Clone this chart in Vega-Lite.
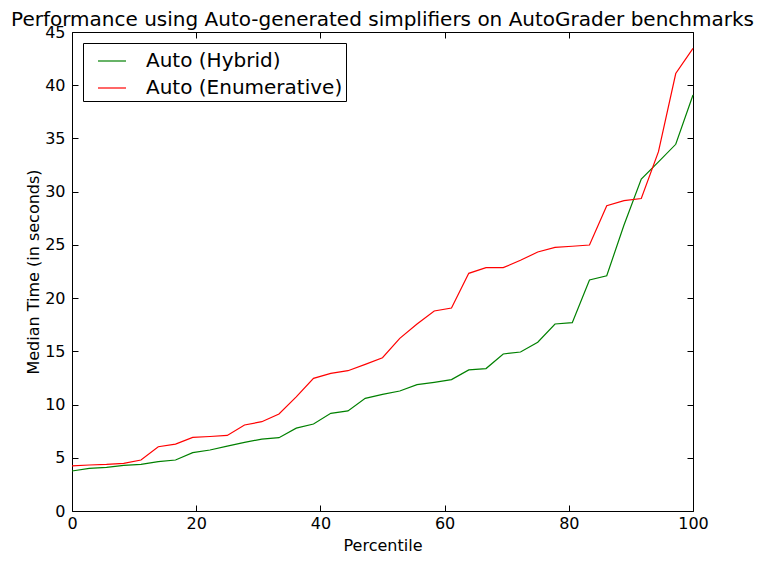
{
  "$schema": "https://vega.github.io/schema/vega-lite/v6.json",
  "autosize": "none",
  "width": 621,
  "height": 479,
  "padding": {"left": 72, "top": 32, "right": 72, "bottom": 53},
  "background": "white",
  "title": {"text": "Performance using Auto-generated simplifiers on AutoGrader benchmarks", "font": "DejaVu Sans", "fontSize": 20, "fontWeight": "normal", "color": "black", "anchor": "middle", "offset": -6},
  "config": {
    "view": {"stroke": "black", "strokeWidth": 1},
    "font": "DejaVu Sans"
  },
  "datasets": {
    "d": [
      {"p": 0, "t": 3.76, "s": "Auto (Hybrid)"},
      {"p": 2.78, "t": 4.0, "s": "Auto (Hybrid)"},
      {"p": 5.56, "t": 4.1, "s": "Auto (Hybrid)"},
      {"p": 8.33, "t": 4.29, "s": "Auto (Hybrid)"},
      {"p": 11.11, "t": 4.38, "s": "Auto (Hybrid)"},
      {"p": 13.89, "t": 4.64, "s": "Auto (Hybrid)"},
      {"p": 16.67, "t": 4.79, "s": "Auto (Hybrid)"},
      {"p": 19.44, "t": 5.48, "s": "Auto (Hybrid)"},
      {"p": 22.22, "t": 5.73, "s": "Auto (Hybrid)"},
      {"p": 25.0, "t": 6.1, "s": "Auto (Hybrid)"},
      {"p": 27.78, "t": 6.45, "s": "Auto (Hybrid)"},
      {"p": 30.56, "t": 6.76, "s": "Auto (Hybrid)"},
      {"p": 33.33, "t": 6.89, "s": "Auto (Hybrid)"},
      {"p": 36.11, "t": 7.78, "s": "Auto (Hybrid)"},
      {"p": 38.89, "t": 8.17, "s": "Auto (Hybrid)"},
      {"p": 41.67, "t": 9.18, "s": "Auto (Hybrid)"},
      {"p": 44.44, "t": 9.4, "s": "Auto (Hybrid)"},
      {"p": 47.22, "t": 10.58, "s": "Auto (Hybrid)"},
      {"p": 50.0, "t": 10.96, "s": "Auto (Hybrid)"},
      {"p": 52.78, "t": 11.27, "s": "Auto (Hybrid)"},
      {"p": 55.56, "t": 11.87, "s": "Auto (Hybrid)"},
      {"p": 58.33, "t": 12.09, "s": "Auto (Hybrid)"},
      {"p": 61.11, "t": 12.34, "s": "Auto (Hybrid)"},
      {"p": 63.89, "t": 13.25, "s": "Auto (Hybrid)"},
      {"p": 66.67, "t": 13.38, "s": "Auto (Hybrid)"},
      {"p": 69.44, "t": 14.75, "s": "Auto (Hybrid)"},
      {"p": 72.22, "t": 14.94, "s": "Auto (Hybrid)"},
      {"p": 75.0, "t": 15.85, "s": "Auto (Hybrid)"},
      {"p": 77.78, "t": 17.57, "s": "Auto (Hybrid)"},
      {"p": 80.56, "t": 17.69, "s": "Auto (Hybrid)"},
      {"p": 83.33, "t": 21.7, "s": "Auto (Hybrid)"},
      {"p": 86.11, "t": 22.1, "s": "Auto (Hybrid)"},
      {"p": 88.89, "t": 26.87, "s": "Auto (Hybrid)"},
      {"p": 91.67, "t": 31.19, "s": "Auto (Hybrid)"},
      {"p": 94.44, "t": 32.8, "s": "Auto (Hybrid)"},
      {"p": 97.22, "t": 34.45, "s": "Auto (Hybrid)"},
      {"p": 100.0, "t": 39.08, "s": "Auto (Hybrid)"},
      {"p": 0, "t": 4.23, "s": "Auto (Enumerative)"},
      {"p": 2.78, "t": 4.32, "s": "Auto (Enumerative)"},
      {"p": 5.56, "t": 4.38, "s": "Auto (Enumerative)"},
      {"p": 8.33, "t": 4.48, "s": "Auto (Enumerative)"},
      {"p": 11.11, "t": 4.79, "s": "Auto (Enumerative)"},
      {"p": 13.89, "t": 6.04, "s": "Auto (Enumerative)"},
      {"p": 16.67, "t": 6.29, "s": "Auto (Enumerative)"},
      {"p": 19.44, "t": 6.92, "s": "Auto (Enumerative)"},
      {"p": 22.22, "t": 7.0, "s": "Auto (Enumerative)"},
      {"p": 25.0, "t": 7.1, "s": "Auto (Enumerative)"},
      {"p": 27.78, "t": 8.08, "s": "Auto (Enumerative)"},
      {"p": 30.56, "t": 8.39, "s": "Auto (Enumerative)"},
      {"p": 33.33, "t": 9.11, "s": "Auto (Enumerative)"},
      {"p": 36.11, "t": 10.72, "s": "Auto (Enumerative)"},
      {"p": 38.89, "t": 12.46, "s": "Auto (Enumerative)"},
      {"p": 41.67, "t": 12.93, "s": "Auto (Enumerative)"},
      {"p": 44.44, "t": 13.18, "s": "Auto (Enumerative)"},
      {"p": 47.22, "t": 13.78, "s": "Auto (Enumerative)"},
      {"p": 50.0, "t": 14.4, "s": "Auto (Enumerative)"},
      {"p": 52.78, "t": 16.22, "s": "Auto (Enumerative)"},
      {"p": 55.56, "t": 17.57, "s": "Auto (Enumerative)"},
      {"p": 58.33, "t": 18.79, "s": "Auto (Enumerative)"},
      {"p": 61.11, "t": 19.07, "s": "Auto (Enumerative)"},
      {"p": 63.89, "t": 22.33, "s": "Auto (Enumerative)"},
      {"p": 66.67, "t": 22.86, "s": "Auto (Enumerative)"},
      {"p": 69.44, "t": 22.86, "s": "Auto (Enumerative)"},
      {"p": 72.22, "t": 23.55, "s": "Auto (Enumerative)"},
      {"p": 75.0, "t": 24.33, "s": "Auto (Enumerative)"},
      {"p": 77.78, "t": 24.77, "s": "Auto (Enumerative)"},
      {"p": 80.56, "t": 24.87, "s": "Auto (Enumerative)"},
      {"p": 83.33, "t": 24.99, "s": "Auto (Enumerative)"},
      {"p": 86.11, "t": 28.68, "s": "Auto (Enumerative)"},
      {"p": 88.89, "t": 29.15, "s": "Auto (Enumerative)"},
      {"p": 91.67, "t": 29.36, "s": "Auto (Enumerative)"},
      {"p": 94.44, "t": 33.76, "s": "Auto (Enumerative)"},
      {"p": 97.22, "t": 41.1, "s": "Auto (Enumerative)"},
      {"p": 100.0, "t": 43.46, "s": "Auto (Enumerative)"}
    ]
  },
  "data": {"name": "d"},
  "layer": [
    {
      "mark": {"type": "line", "strokeWidth": 1.2},
      "encoding": {
        "x": {"field": "p", "type": "quantitative", "scale": {"domain": [0, 100], "nice": false},
          "axis": {"orient": "bottom", "title": "Percentile", "values": [0, 20, 40, 60, 80, 100], "grid": false, "domain": false, "tickSize": -6, "tickColor": "black", "labelFlush": false, "labelPadding": 10, "labelFontSize": 16, "labelColor": "black", "titleFontSize": 16, "titleFontWeight": "normal", "titleColor": "black", "titlePadding": 6, "labelFont": "DejaVu Sans", "titleFont": "DejaVu Sans"}},
        "y": {"field": "t", "type": "quantitative", "scale": {"domain": [0, 45], "nice": false},
          "axis": {"orient": "left", "title": "Median Time (in seconds)", "values": [0, 5, 10, 15, 20, 25, 30, 35, 40, 45], "grid": false, "domain": false, "tickSize": -6, "tickColor": "black", "labelFlush": false, "labelPadding": 13, "labelFontSize": 16, "labelColor": "black", "titleFontSize": 16, "titleFontWeight": "normal", "titleColor": "black", "titlePadding": 3, "labelFont": "DejaVu Sans", "titleFont": "DejaVu Sans"}},
        "color": {"field": "s", "type": "nominal",
          "scale": {"domain": ["Auto (Hybrid)", "Auto (Enumerative)"], "range": ["#008000", "#ff0000"]},
          "legend": {"orient": "top-left", "title": null, "symbolType": "stroke", "symbolSize": 784, "symbolStrokeWidth": 1.2, "symbolOffset": 11, "labelFontSize": 20, "labelFont": "DejaVu Sans", "labelColor": "black", "labelLimit": 0, "strokeColor": "black", "fillColor": "white", "padding": 3, "rowPadding": 2, "labelOffset": 19, "offset": 11}}
      }
    },
    {
      "mark": {"type": "line", "opacity": 0},
      "encoding": {
        "x": {"field": "p", "type": "quantitative", "scale": {"domain": [0, 100], "nice": false},
          "axis": {"orient": "top", "title": null, "values": [0, 20, 40, 60, 80, 100], "labels": false, "grid": false, "domain": false, "tickSize": -6, "tickColor": "black"}},
        "y": {"field": "t", "type": "quantitative", "scale": {"domain": [0, 45], "nice": false},
          "axis": {"orient": "right", "title": null, "values": [0, 5, 10, 15, 20, 25, 30, 35, 40, 45], "labels": false, "grid": false, "domain": false, "tickSize": -6, "tickColor": "black"}},
        "detail": {"field": "s", "type": "nominal"}
      }
    }
  ],
  "resolve": {"scale": {"x": "independent", "y": "independent"}}
}
